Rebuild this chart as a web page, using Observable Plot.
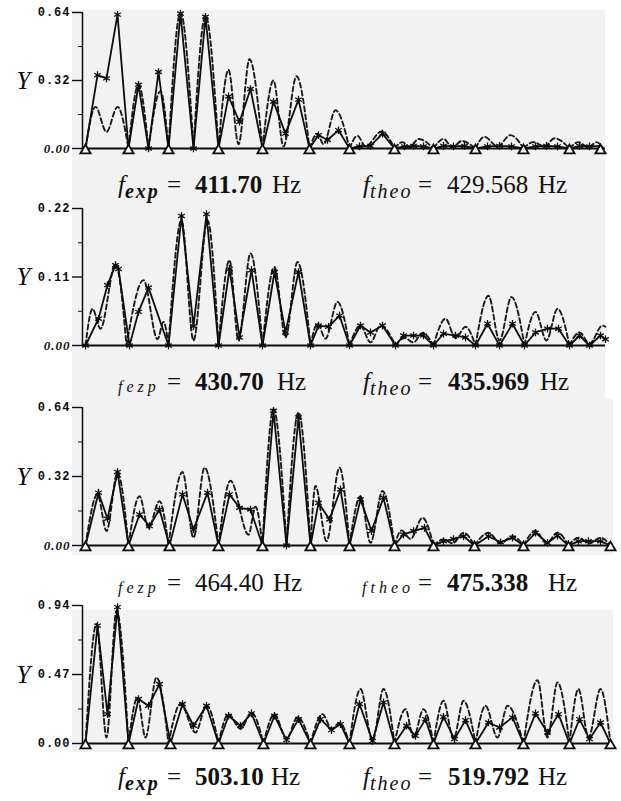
<!DOCTYPE html>
<html><head><meta charset="utf-8">
<script src="https://cdn.jsdelivr.net/npm/d3@7"></script>
<script src="https://cdn.jsdelivr.net/npm/@observablehq/plot@0.6"></script>
<style>
body{margin:0;background:#fff;width:621px;height:801px;position:relative;overflow:hidden;font-family:"Liberation Serif",serif;color:#111}
.bg{position:absolute;background:#f2f2f2}
.panel{position:absolute;left:0}
.row{position:absolute;left:0;width:621px;height:28px;font-size:25px;line-height:28px}
.row span{position:absolute;top:0;white-space:nowrap}
.row i{font-style:italic}
.row sub{font-size:20px;font-style:italic;letter-spacing:2px;vertical-align:-5px;line-height:0}
.b{font-weight:bold}
.row .sm{font-size:16px;font-style:italic;letter-spacing:4px;top:5px}
</style></head><body>
<div class="bg" style="left:72px;top:10px;width:533px;height:388px"></div>
<div class="bg" style="left:72px;top:398px;width:541px;height:157px"></div>
<div class="bg" style="left:72px;top:610px;width:541px;height:142px"></div>
<div id="p1" class="panel" style="top:2px"></div>
<div id="p2" class="panel" style="top:198px"></div>
<div id="p3" class="panel" style="top:397px"></div>
<div id="p4" class="panel" style="top:595px"></div>

<div class="row" style="top:171px">
  <span style="left:118px"><i>f</i><sub class="b">exp</sub></span><span style="left:167px">=</span><span class="b" style="left:195px">411.70</span><span style="left:272px">Hz</span>
  <span style="left:363px"><i>f</i><sub>theo</sub></span><span style="left:418px">=</span><span style="left:447px">429.568</span><span style="left:538px">Hz</span>
</div>
<div class="row" style="top:368px">
  <span class="sm" style="left:118px">fezp</span><span style="left:167px">=</span><span class="b" style="left:195px">430.70</span><span style="left:277px">Hz</span>
  <span style="left:363px"><i>f</i><sub>theo</sub></span><span style="left:418px">=</span><span class="b" style="left:448px">435.969</span><span style="left:540px">Hz</span>
</div>
<div class="row" style="top:569px">
  <span class="sm" style="left:118px">fezp</span><span style="left:167px">=</span><span style="left:195px">464.40</span><span style="left:273px">Hz</span>
  <span class="sm" style="left:362px">ftheo</span><span style="left:418px">=</span><span class="b" style="left:447px">475.338</span><span style="left:548px">Hz</span>
</div>
<div class="row" style="top:763px">
  <span style="left:118px"><i>f</i><sub class="b">exp</sub></span><span style="left:167px">=</span><span class="b" style="left:195px">503.10</span><span style="left:271px">Hz</span>
  <span style="left:363px"><i>f</i><sub>theo</sub></span><span style="left:418px">=</span><span class="b" style="left:448px">519.792</span><span style="left:538px">Hz</span>
</div>

<script>
// ---- Panel 1 (f_exp = 411.70 Hz) ----
const p1Ticks = [0, 0.32, 0.64];
const p1Nodes = [0,43,83,133,177,224,264,309,348,390,438,484,515];
const p1ExpX = [0,12,21,32,43,53,63,73,83,95,108,120,133,143,154,165,177,188,200,213,224,233,242,253,264,274,285,297,309,319,328,338,348,358,368,379,390,402,414,426,438,450,461,472,484,494,504,515];
const p1ExpY = [0,0.345,0.33,0.63,0,0.30,0,0.36,0,0.635,0,0.62,0,0.245,0.125,0.28,0,0.22,0.07,0.23,0,0.063,0.04,0.086,0,0.01,0.012,0.07,0,0.01,0.012,0.01,0,0.012,0.01,0.012,0,0.01,0.012,0.01,0,0.01,0.012,0.01,0,0.012,0.01,0.012];
const p1TheoX = [0,10,21,32,43,53,63,75,83,95,108,120,133,143,153,164,177,188,198,211,224,232,238,250,264,272,280,296,309,317,324,333,348,358,367,376,390,399,412,425,438,448,459,469,484,493,503,511,518];
const p1TheoY = [0,0.196,0.078,0.196,0,0.30,0,0.27,0,0.64,0,0.625,0,0.37,0.02,0.42,0,0.32,0.01,0.34,0,0.07,0.02,0.18,0,0.06,0.01,0.08,0,0.03,0.005,0.045,0,0.045,0.005,0.035,0,0.055,0.01,0.063,0,0.03,0.01,0.048,0,0.03,0.005,0.03,0];

// ---- Panel 2 (f_ezp = 430.70 Hz) ----
const p2Ticks = [0, 0.11, 0.22];
const p2Nodes = [];
const p2ExpX = [0,13,22,30,33,44,53,63,83,96,108,121,133,144,154,166,177,189,200,213,225,233,243,254,264,275,285,297,310,318,328,338,348,358,370,380,390,402,414,427,439,450,462,473,484,494,504,515,520];
const p2ExpY = [0,0.043,0.097,0.129,0.123,0,0.054,0.093,0,0.208,0.031,0.211,0,0.123,0.013,0.121,0,0.118,0.021,0.118,0,0.032,0.03,0.048,0,0.032,0.021,0.032,0,0.016,0.016,0.016,0,0.019,0.016,0.013,0,0.035,0,0.035,0,0.021,0.027,0.027,0,0.016,0,0.016,0.01];
const p2TheoX = [0,7,15,30,41,58,72,78,83,96,108,122,133,144,153,165,177,189,200,212,225,232,240,252,264,275,285,295,310,319,328,337,348,360,370,380,390,403,414,426,439,450,461,472,484,494,504,517,520];
const p2TheoY = [0,0.059,0.027,0.131,0,0.105,0.01,0.038,0,0.201,0.008,0.201,0,0.137,0.008,0.148,0,0.126,0.013,0.134,0,0.035,0.011,0.07,0,0.032,0.005,0.032,0,0.012,0.005,0.02,0,0.043,0.012,0.03,0,0.08,0.008,0.078,0,0.054,0.008,0.059,0,0.021,0.003,0.032,0.03];

// ---- Panel 3 (f_ezp = 464.40 Hz) ----
const p3Ticks = [0, 0.32, 0.64];
const p3Nodes = [0,43,84,133,177,225,264,309,348,389,438,483,525];
const p3ExpX = [0,13,22,32,43,54,64,74,84,97,108,122,133,144,154,165,177,188,201,213,225,233,244,255,264,275,286,298,309,318,328,339,348,358,368,378,389,403,415,427,438,450,462,472,483,493,503,515,525];
const p3ExpY = [0,0.245,0.124,0.341,0,0.144,0.09,0.167,0,0.237,0.074,0.245,0,0.237,0.175,0.167,0,0.625,0,0.594,0,0.198,0.121,0.26,0,0.214,0.067,0.222,0,0.051,0.067,0.082,0,0.02,0.03,0.043,0,0.043,0.015,0.036,0,0.059,0.012,0.046,0,0.02,0.02,0.02,0];
const p3TheoX = [0,12,21,32,43,54,63,74,83,97,108,119,133,145,163,170,177,188,201,213,225,230,241,254,264,275,285,297,309,316,325,337,348,358,367,378,389,403,415,427,438,450,461,472,483,493,504,515,525];
const p3TheoY = [0,0.237,0.067,0.338,0,0.229,0.082,0.206,0,0.341,0.036,0.361,0,0.30,0.05,0.18,0,0.632,0,0.617,0,0.276,0.02,0.361,0,0.229,0.012,0.253,0,0.07,0.03,0.129,0,0.028,0.01,0.059,0,0.059,0.01,0.043,0,0.067,0.01,0.059,0,0.036,0.01,0.036,0];

// ---- Panel 4 (f_exp = 503.10 Hz) ----
const p4Ticks = [0, 0.47, 0.94];
const p4Nodes = [0,43,85,133,178,225,264,309,348,390,438,484,525];
const p4ExpX = [0,12,22,32,43,53,63,74,85,97,108,121,133,143,155,166,178,189,201,213,225,235,246,255,264,274,287,298,309,321,330,340,348,358,369,380,390,403,414,427,438,450,462,473,484,494,504,515,525];
const p4ExpY = [0,0.803,0.2,0.929,0,0.303,0.257,0.405,0,0.269,0.121,0.257,0,0.189,0.121,0.205,0,0.189,0.023,0.166,0,0.166,0.091,0.132,0,0.269,0.018,0.28,0,0.121,0.052,0.166,0,0.182,0.03,0.159,0,0.143,0.109,0.178,0,0.205,0.075,0.2,0,0.166,0.03,0.143,0];
const p4TheoX = [0,11,21,31,43,52,60,71,83,95,110,121,133,143,155,166,178,189,201,212,225,237,246,254,264,275,287,298,309,320,328,338,348,358,368,378,390,400,412,422,438,452,462,472,484,493,503,515,525];
const p4TheoY = [0,0.815,0.041,0.906,0,0.314,0.041,0.45,0,0.269,0.075,0.26,0,0.2,0.1,0.21,0,0.2,0.03,0.18,0,0.2,0.1,0.14,0,0.371,0.018,0.371,0,0.234,0.041,0.234,0,0.291,0.03,0.291,0,0.257,0.041,0.257,0,0.432,0.041,0.416,0,0.371,0.041,0.371,0];

const ink = "#0d0d0d";
function panel(id, cfg) {
  const {ticks, nodes, expX, expY, theoX, theoY, plotH, xEnd, italicZero} = cfg;
  const max = ticks[ticks.length - 1];
  const exp = expX.map((x, i) => ({x, y: expY[i]}));
  const theo = [];
  let seg = 0;
  theoX.forEach((x, i) => {
    const y = theoY[i];
    theo.push({x, y, seg});
    if (y === 0 && i > 0 && i < theoX.length - 1) { seg++; theo.push({x, y, seg}); }
  });
  const nodeSet = new Set(nodes);
  const stars = exp.filter(d => !nodeSet.has(d.x));
  const minor = [max / 4, 3 * max / 4];
  const fmt = d3.format(".2f");
  const zeroLabel = italicZero
    ? {fontFamily: "Liberation Serif, serif", fontStyle: "italic", fontWeight: "bold", fontSize: 13}
    : {fontFamily: "Liberation Mono, monospace", fontWeight: "bold", fontSize: 12};
  const svg = Plot.plot({
    width: 621, height: 10 + plotH + 14,
    marginLeft: 82, marginRight: 8, marginTop: 10, marginBottom: 14,
    x: {domain: [-3, 528], axis: null},
    y: {domain: [0, max], axis: null},
    style: {background: "transparent", overflow: "visible", color: ink},
    marks: [
      Plot.ruleY([0], {x1: -3, x2: xEnd, stroke: ink, strokeWidth: 1.8}),
      Plot.ruleX([-3], {y1: 0, y2: max, stroke: ink, strokeWidth: 1.5}),
      Plot.axisY(ticks, {anchor: "left", tickSize: 10, tickFormat: () => "", label: null, stroke: ink, strokeWidth: 1.4}),
      Plot.axisY(minor, {anchor: "left", tickSize: 4, tickFormat: () => "", label: null, stroke: ink}),
      Plot.text(ticks.filter(t => t !== 0), {x: () => -3, y: d => d, text: fmt, dx: -12, textAnchor: "end",
        fontFamily: "Liberation Mono, monospace", fontWeight: "bold", fontSize: 12, fill: ink}),
      Plot.text([0], {x: () => -3, y: d => d, text: fmt, dx: -12, textAnchor: "end", fill: ink, ...zeroLabel}),
      Plot.text([{x: -3, y: max / 2}], {x: "x", y: "y", text: () => "Y", dx: -59, fontSize: 25,
        fontStyle: "italic", fontFamily: "Liberation Serif, serif", fill: ink}),
      Plot.line(theo, {x: "x", y: "y", z: "seg", curve: "monotone-x", stroke: "#1a1a1a", strokeWidth: 1.9, strokeDasharray: "5,3"}),
      Plot.line(exp, {x: "x", y: "y", stroke: ink, strokeWidth: 1.8}),
      Plot.dot(stars, {x: "x", y: "y", symbol: "asterisk", r: 3.6, stroke: ink, strokeWidth: 1.3}),
      Plot.dot(nodes, {x: d => d, y: () => 0, symbol: "triangle", r: 3.8, fill: "#fff", stroke: ink, strokeWidth: 1.8, dy: 2})
    ]
  });
  svg.querySelectorAll("text").forEach(t => { if (/^\d\.\d\d$/.test(t.textContent)) t.setAttribute("letter-spacing", "1"); });
  document.getElementById(id).appendChild(svg);
}

panel("p1", {ticks: p1Ticks, nodes: p1Nodes, expX: p1ExpX, expY: p1ExpY, theoX: p1TheoX, theoY: p1TheoY, plotH: 136, xEnd: 520, italicZero: true});
panel("p2", {ticks: p2Ticks, nodes: p2Nodes, expX: p2ExpX, expY: p2ExpY, theoX: p2TheoX, theoY: p2TheoY, plotH: 137, xEnd: 520, italicZero: true});
panel("p3", {ticks: p3Ticks, nodes: p3Nodes, expX: p3ExpX, expY: p3ExpY, theoX: p3TheoX, theoY: p3TheoY, plotH: 138, xEnd: 528, italicZero: true});
panel("p4", {ticks: p4Ticks, nodes: p4Nodes, expX: p4ExpX, expY: p4ExpY, theoX: p4TheoX, theoY: p4TheoY, plotH: 138, xEnd: 528, italicZero: false});
</script>
</body></html>
